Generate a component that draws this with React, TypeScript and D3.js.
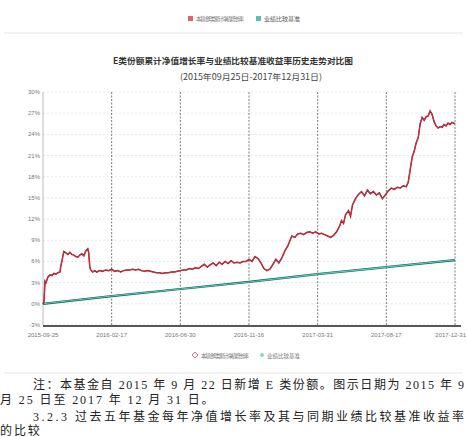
import React from "react";
import * as d3 from "d3";

const tickDays = [0, 138, 276, 414, 552, 690, 828];
const tickLabels = ["2015-09-25", "2016-02-17", "2016-06-30", "2016-11-16", "2017-03-31", "2017-08-17", "2017-12-31"];
const yTicks = [-3, 0, 3, 6, 9, 12, 15, 18, 21, 24, 27, 30];

const fundDays = [0,2,4,6,10,14,18,22,26,30,34,36,38,40,42,46,50,54,58,62,66,70,74,78,82,86,90,92,94,96,100,104,108,114,120,126,132,138,144,150,156,162,168,174,180,186,192,198,204,210,216,222,228,234,240,246,252,258,264,270,276,282,288,294,300,306,312,318,324,330,336,342,348,354,360,366,372,378,384,390,396,402,408,414,420,426,432,438,444,450,456,462,468,474,480,486,492,496,500,506,512,518,524,530,536,542,548,554,560,566,572,578,584,590,596,600,604,608,614,618,622,628,634,640,646,652,658,664,670,676,682,688,694,700,706,712,718,724,730,734,738,742,746,750,754,758,762,766,770,774,778,782,786,790,794,798,802,806,810,814,818,822,828];
const fundValues = [0.0,0.3,3.2,3.0,3.8,4.1,4.0,4.3,4.2,4.4,4.5,5.4,6.0,6.8,7.4,7.2,7.0,7.3,7.0,6.9,6.7,6.6,6.9,7.1,6.8,7.5,7.8,7.2,5.2,4.8,4.5,4.7,4.5,4.7,4.6,4.8,4.7,4.9,4.6,4.7,4.5,4.7,4.8,4.8,4.9,4.8,4.9,4.7,4.6,4.7,4.6,4.5,4.4,4.4,4.3,4.4,4.4,4.5,4.5,4.6,4.7,4.8,4.8,5.0,4.9,5.1,5.0,5.3,5.6,5.2,5.5,5.8,5.4,5.9,5.6,6.0,5.7,6.1,5.8,5.9,5.8,6.0,6.0,6.3,6.0,6.7,6.4,5.8,5.0,4.7,4.9,5.6,6.3,5.8,6.5,7.5,8.2,8.9,9.6,9.4,9.9,10.0,9.8,10.1,10.2,10.0,10.2,9.9,10.0,9.8,9.6,9.4,9.7,10.2,11.0,11.8,11.4,12.6,13.2,12.4,14.0,14.9,15.5,15.9,15.3,16.1,15.6,15.9,15.4,15.7,14.9,15.4,16.0,16.4,16.2,16.5,16.4,16.7,16.6,17.2,19.0,20.8,21.6,22.8,23.5,25.5,26.4,26.0,26.5,26.6,27.3,26.8,25.8,25.2,24.9,25.1,25.0,25.4,25.2,25.6,25.4,25.7,25.5];

const benchDays = [0, 138, 276, 414, 552, 690, 828];
const benchValues = [0, 1.1, 2.1, 3.1, 4.2, 5.2, 6.2];

const fundName = "本基金E类累计净值增长率";
const benchName = "业绩比较基准";
const titleLine1 = "E类份额累计净值增长率与业绩比较基准收益率历史走势对比图";
const titleLine2 = "(2015年09月25日-2017年12月31日)";
const noteLines = [
  "注：本基金自 2015 年 9 月 22 日新增 E 类份额。图示日期为 2015 年 9",
  "月 25 日至 2017 年 12 月 31 日。",
  "3.2.3 过去五年基金每年净值增长率及其与同期业绩比较基准收益率",
  "的比较",
];

export default function App() {
  const left = 43, right = 455, top = 92, bottom = 325;
  const x = d3.scaleLinear().domain([0, 828]).range([left, right]);
  const y = d3.scaleLinear().domain([-3, 30]).range([bottom, top]);
  const line = d3.line<[number, number]>().x(d => x(d[0])).y(d => y(d[1]));
  const fund = line(fundDays.map((d, i) => [d, fundValues[i]] as [number, number])) || "";
  const bench = line(benchDays.map((d, i) => [d, benchValues[i]] as [number, number])) || "";
  const small = { fontFamily: "Liberation Sans, sans-serif", fontSize: 6, fill: "#777" };
  const cjk = "'Noto Sans CJK SC', sans-serif";
  const noteFont = { fontFamily: "'Liberation Serif', " + cjk, fontSize: 12, fill: "#222" };
  return (
    <svg width={467} height={437} style={{ position: "absolute", left: 0, top: 0, background: "#fff" }}>
      <rect width={467} height={437} fill="#fff" />
      {/* top legend */}
      <rect x={188} y={16} width={5} height={5} fill="#e36070" />
      <text x={196} y={21} style={{ ...small, fontFamily: cjk, fontSize: 5.5 }} textLength={48}>{fundName}</text>
      <rect x={256} y={16} width={5} height={5} fill="#5cc0b0" />
      <text x={264} y={21} style={{ ...small, fontFamily: cjk, fontSize: 6, fill: "#555" }}>{benchName}</text>
      <line x1={4} x2={463} y1={33} y2={33} stroke="#e6e6e6" />
      {/* title */}
      <text x={233} y={64} textAnchor="middle" style={{ fontFamily: cjk, fontSize: 8.5, fontWeight: 700, fill: "#333" }} textLength={240} lengthAdjust="spacingAndGlyphs">{titleLine1}</text>
      <text x={251} y={80} textAnchor="middle" style={{ fontFamily: cjk, fontSize: 8.5, fill: "#444" }} textLength={142} lengthAdjust="spacingAndGlyphs">{titleLine2}</text>
      {/* grid */}
      {yTicks.map(t => (
        <g key={t}>
          <line x1={left} x2={right + 4} y1={y(t)} y2={y(t)} stroke="#d8d8d8" strokeWidth={0.6} strokeDasharray="2,2" />
          <text x={left - 3} y={y(t) + 2} textAnchor="end" style={small}>{t + "%"}</text>
        </g>
      ))}
      {tickDays.slice(1).map(t => (
        <line key={t} x1={x(t)} x2={x(t)} y1={top} y2={bottom} stroke="#444" strokeWidth={0.7} strokeDasharray="2,1.5" />
      ))}
      <line x1={left} x2={left} y1={top} y2={bottom} stroke="#aaa" strokeWidth={0.8} />
      <path d={bench} fill="none" stroke="#1f5a50" strokeWidth={2.2} />
      <path d={bench} fill="none" stroke="#4ed0c0" strokeWidth={1.1} />
      <path d={fund} fill="none" stroke="#8a1020" strokeWidth={1.5} />
      <path d={fund} fill="none" stroke="#ee4050" strokeWidth={0.7} />
      <line x1={left} x2={right + 6} y1={bottom + 1} y2={bottom + 1} stroke="#222" strokeWidth={1.6} />
      {tickDays.map((t, i) => (
        <text key={t} x={i === tickDays.length - 1 ? 466 : x(t)} y={bottom + 12} textAnchor={i === tickDays.length - 1 ? "end" : "middle"} style={small}>{tickLabels[i]}</text>
      ))}
      {/* bottom legend */}
      <path d="M195,352 L198,355 L195,358 L192,355 Z" fill="none" stroke="#e36070" strokeWidth={0.9} />
      <text x={201} y={357.5} style={{ ...small, fontFamily: cjk, fontSize: 5.5 }} textLength={48}>{fundName}</text>
      <circle cx={262} cy={355} r={2} fill="#8fd4c0" />
      <text x={267} y={357.5} style={{ ...small, fontFamily: cjk, fontSize: 5.5 }}>{benchName}</text>
      <line x1={4} x2={463} y1={373} y2={373} stroke="#e6e6e6" />
      {/* notes */}
      <text x={33} y={389} style={noteFont} textLength={431} lengthAdjust="spacing">{noteLines[0]}</text>
      <text x={0} y={404} style={{ ...noteFont, letterSpacing: 1.9 }}>{noteLines[1]}</text>
      <text x={33} y={421} style={noteFont} textLength={431} lengthAdjust="spacing">{noteLines[2]}</text>
      <text x={0} y={434.5} style={{ ...noteFont, letterSpacing: 1.9 }}>{noteLines[3]}</text>
    </svg>
  );
}
